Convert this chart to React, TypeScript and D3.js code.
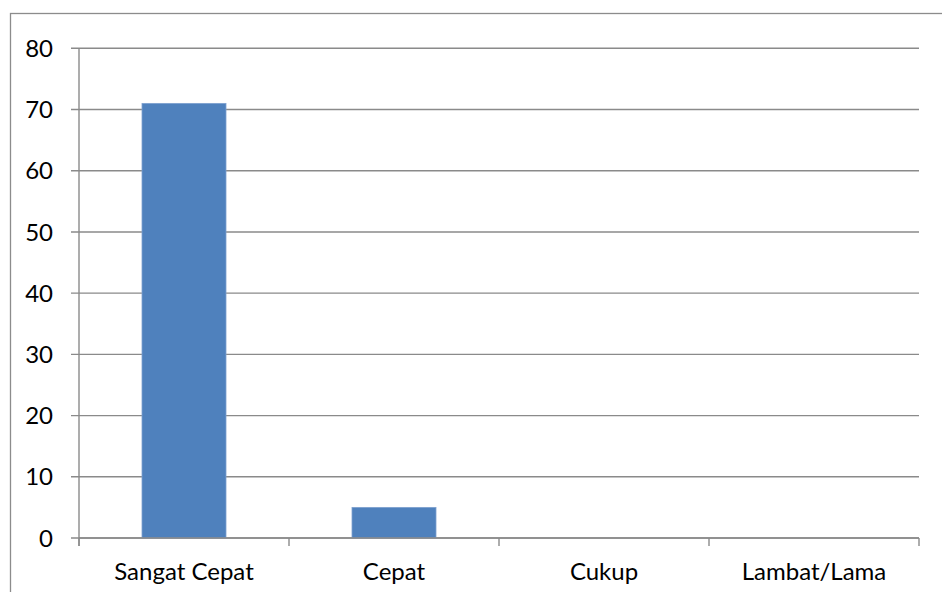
import React from "react";
import * as d3 from "d3";

const categories = ["Sangat Cepat", "Cepat", "Cukup", "Lambat/Lama"];
const values = [71, 5, 0, 0];
const yTicks = [0, 10, 20, 30, 40, 50, 60, 70, 80];

const W = 942;
const H = 592;
const left = 79;
const right = 919;
const top = 48.3;
const bottom = 538;

export default function App() {
  const x = d3.scaleBand<string>().domain(categories).range([left, right]).paddingInner(0).paddingOuter(0);
  const y = d3.scaleLinear().domain([0, 80]).range([bottom, top]);
  const bw = x.bandwidth() * 0.4;
  const font = "Lato, 'Open Sans', sans-serif";
  const grid = "#8a8a8a";
  return (
    <svg width={W} height={H} style={{ position: "absolute", left: 0, top: 0, background: "#fff" }}>
      <rect x={10.5} y={13.5} width={940} height={620} fill="#fff" stroke="#8c8c8c" strokeWidth={1.3} />
      {yTicks.map((t) => (
        <g key={t}>
          <line x1={71} x2={right} y1={y(t)} y2={y(t)} stroke={grid} strokeWidth={1.4} />
          <text x={53} y={y(t)} dy="0.36em" textAnchor="end" fontFamily={font} fontSize={24} fill="#000">
            {t}
          </text>
        </g>
      ))}
      {categories.map((c, i) => (
        <rect
          key={c}
          x={(x(c) as number) + (x.bandwidth() - bw) / 2}
          y={y(values[i])}
          width={bw}
          height={bottom - y(values[i])}
          fill="#4f81bd"
          stroke="#7ea1cf"
          strokeWidth={values[i] > 0 ? 0.8 : 0}
        />
      ))}
      <line x1={left} x2={left} y1={top} y2={546} stroke={grid} strokeWidth={1.4} />
      <line x1={left} x2={right} y1={bottom} y2={bottom} stroke={grid} strokeWidth={1.4} />
      {[...categories.map((c) => x(c) as number), right].map((tx, i) => (
        <line key={i} x1={tx} x2={tx} y1={bottom} y2={546} stroke={grid} strokeWidth={1.4} />
      ))}
      {categories.map((c) => (
        <text
          key={c}
          x={(x(c) as number) + x.bandwidth() / 2}
          y={580}
          textAnchor="middle"
          fontFamily={font}
          fontSize={24}
          fill="#000"
        >
          {c}
        </text>
      ))}
    </svg>
  );
}
